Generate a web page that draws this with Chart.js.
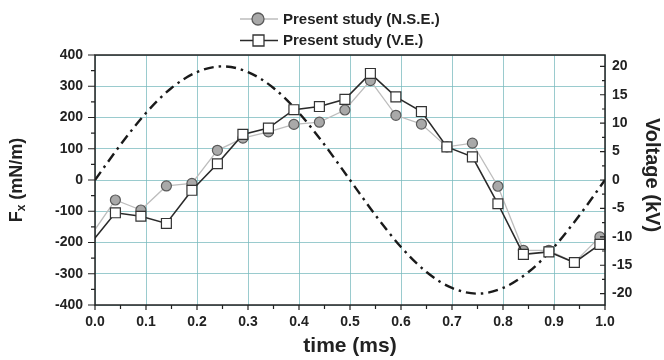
<!DOCTYPE html>
<html>
<head>
<meta charset="utf-8">
<script src="https://cdn.jsdelivr.net/npm/chart.js@4.4.1/dist/chart.umd.min.js"></script>
<style>
html,body{margin:0;padding:0;background:#fff;}
#wrap{position:relative;width:664px;height:360px;}
</style>
</head>
<body>
<div id="wrap"><canvas id="c" width="664" height="360"></canvas></div>
<script>
// ---- data ----
const times = [-0.01, 0.04, 0.09, 0.14, 0.19, 0.24, 0.29, 0.34, 0.39, 0.44, 0.49, 0.54, 0.59, 0.64, 0.69, 0.74, 0.79, 0.84, 0.89, 0.94, 0.99];
const nseValues = [-182, -64, -96, -19, -11, 95, 134, 154, 178, 185, 224, 318, 207, 179, 106, 118, -20, -225, -225, -264, -182];
const veValues  = [-206, -105, -116, -139, -33, 52, 146, 166, 225, 235, 258, 341, 266, 219, 106, 74, -76, -238, -230, -264, -206];
const voltTimes = [0, 0.05, 0.1, 0.15, 0.2, 0.25, 0.3, 0.35, 0.4, 0.45, 0.5, 0.55, 0.6, 0.65, 0.7, 0.75, 0.8, 0.85, 0.9, 0.95, 1.0];
const voltValues = [0, 6.2, 11.8, 16.2, 19.0, 20.0, 19.0, 16.2, 11.8, 6.2, 0, -6.2, -11.8, -16.2, -19.0, -20.0, -19.0, -16.2, -11.8, -6.2, 0];
const xTicks = [0, 0.1, 0.2, 0.3, 0.4, 0.5, 0.6, 0.7, 0.8, 0.9, 1.0];
const leftTicks = [-400, -300, -200, -100, 0, 100, 200, 300, 400];
const rightTicks = [-20, -15, -10, -5, 0, 5, 10, 15, 20];
const legendLabels = ['Present study (N.S.E.)', 'Present study (V.E.)'];
const xTitle = 'time (ms)';
const rightTitle = 'Voltage (kV)';

const FONT = '"Liberation Sans", Arial, sans-serif';
const GRID = 'rgba(120,185,190,0.75)';

const pts = (xs, ys) => xs.map((x, i) => ({x, y: ys[i]}));
const radii = (n, r) => Array.from({length: n}, (_, i) => i === 0 ? 0 : r);

const decor = {
  id: 'decor',
  afterDraw(chart) {
    const ctx = chart.ctx;
    const a = chart.chartArea;
    const sx = chart.scales.x, sl = chart.scales.yL, sr = chart.scales.yR;
    ctx.save();
    // frame
    ctx.strokeStyle = '#222';
    ctx.lineWidth = 1.5;
    ctx.strokeRect(a.left, a.top, a.right - a.left, a.bottom - a.top);
    ctx.lineWidth = 1.2;
    ctx.beginPath();
    // left ticks (outward)
    for (let v = -400; v <= 400; v += 50) {
      const y = sl.getPixelForValue(v);
      const len = (v % 100 === 0) ? 7 : 4;
      ctx.moveTo(a.left, y); ctx.lineTo(a.left - len, y);
    }
    // bottom ticks (outward)
    for (let i = 0; i <= 20; i++) {
      const x = sx.getPixelForValue(i * 0.05);
      const len = (i % 2 === 0) ? 5 : 4;
      ctx.moveTo(x, a.bottom); ctx.lineTo(x, a.bottom + len);
    }
    // right ticks (inward)
    for (let v = -20; v <= 20; v += 2.5) {
      const y = sr.getPixelForValue(v);
      const len = (Math.abs(v % 5) < 1e-9) ? 5 : 3;
      ctx.moveTo(a.right, y); ctx.lineTo(a.right - len, y);
    }
    ctx.stroke();

    // axis titles
    ctx.fillStyle = '#222';
    ctx.textAlign = 'center';
    ctx.textBaseline = 'middle';
    ctx.font = 'bold 21px ' + FONT;
    ctx.fillText(xTitle, (a.left + a.right) / 2, 346);

    // left title F_x (mN/m)
    ctx.save();
    ctx.translate(17, (a.top + a.bottom) / 2);
    ctx.rotate(-Math.PI / 2);
    ctx.textAlign = 'left';
    ctx.textBaseline = 'middle';
    const f1 = 'bold 18px ' + FONT, f2 = 'bold 12px ' + FONT;
    ctx.font = f1; const wF = ctx.measureText('F').width;
    ctx.font = f2; const wx = ctx.measureText('x').width;
    ctx.font = f1; const wR = ctx.measureText(' (mN/m)').width;
    let x0 = -(wF + wx + wR) / 2;
    ctx.font = f1; ctx.fillText('F', x0, 0);
    ctx.font = f2; ctx.fillText('x', x0 + wF, 5);
    ctx.font = f1; ctx.fillText(' (mN/m)', x0 + wF + wx, 0);
    ctx.restore();

    // right title
    ctx.save();
    ctx.translate(652, (a.top + a.bottom) / 2 - 5);
    ctx.rotate(Math.PI / 2);
    ctx.font = 'bold 20px ' + FONT;
    ctx.textAlign = 'center';
    ctx.textBaseline = 'middle';
    ctx.fillText(rightTitle, 0, 0);
    ctx.restore();

    // legend
    const ds = chart.data.datasets;
    const rows = [19, 40.5];
    for (let i = 0; i < 2; i++) {
      const d = ds[i];
      const y = rows[i];
      ctx.strokeStyle = d.borderColor;
      ctx.lineWidth = d.borderWidth;
      ctx.beginPath(); ctx.moveTo(240, y); ctx.lineTo(278, y); ctx.stroke();
      ctx.fillStyle = d.pointBackgroundColor;
      ctx.strokeStyle = d.pointBorderColor;
      ctx.lineWidth = 1.3;
      ctx.beginPath();
      if (i === 0) ctx.arc(258, y, 6, 0, Math.PI * 2);
      else ctx.rect(253, y - 5.5, 11, 11);
      ctx.fill(); ctx.stroke();
      ctx.fillStyle = '#222';
      ctx.font = 'bold 15px ' + FONT;
      ctx.textAlign = 'left';
      ctx.textBaseline = 'middle';
      ctx.fillText(legendLabels[i], 283, y + 0.5);
    }
    ctx.restore();
  }
};

new Chart(document.getElementById('c'), {
  type: 'line',
  data: {
    datasets: [
      {
        label: legendLabels[0],
        data: pts(times, nseValues),
        yAxisID: 'yL',
        borderColor: '#bdbdbd',
        borderWidth: 1.3,
        pointStyle: 'circle',
        pointRadius: radii(times.length, 5),
        pointBackgroundColor: '#a9a9a9',
        pointBorderColor: '#5a5a5a',
        pointBorderWidth: 1.2,
        tension: 0,
        clip: {left: 0, right: 8, top: 8, bottom: 8},
        order: 2
      },
      {
        label: legendLabels[1],
        data: pts(times, veValues),
        yAxisID: 'yL',
        borderColor: '#2a2a2a',
        borderWidth: 1.6,
        pointStyle: 'rect',
        pointRadius: radii(times.length, 7),
        pointBackgroundColor: '#ffffff',
        pointBorderColor: '#333333',
        pointBorderWidth: 1.2,
        tension: 0,
        clip: {left: 0, right: 8, top: 8, bottom: 8},
        order: 1
      },
      {
        label: 'Voltage',
        data: pts(voltTimes, voltValues),
        yAxisID: 'yR',
        borderColor: '#1a1a1a',
        borderWidth: 2.4,
        borderDash: [10, 5, 2.5, 5],
        pointRadius: 0,
        cubicInterpolationMode: 'monotone',
        clip: 0,
        order: 3
      }
    ]
  },
  options: {
    responsive: false,
    animation: false,
    devicePixelRatio: 1,
    layout: {padding: {top: 55, left: 0, right: 0, bottom: 0}},
    plugins: {legend: {display: false}, tooltip: {enabled: false}},
    scales: {
      x: {
        type: 'linear', min: 0, max: 1,
        afterBuildTicks: s => { s.ticks = xTicks.map(v => ({value: v})); },
        afterFit: s => { s.height = 55; },
        grid: {color: GRID, lineWidth: 1, drawTicks: false},
        border: {display: false},
        ticks: {
          padding: 9, color: '#222',
          font: {family: FONT, size: 14, weight: 'bold'},
          callback: v => Number(v).toFixed(1),
          maxRotation: 0, autoSkip: false
        }
      },
      yL: {
        type: 'linear', position: 'left', min: -400, max: 400,
        afterBuildTicks: s => { s.ticks = leftTicks.map(v => ({value: v})); },
        afterFit: s => { s.width = 95; },
        grid: {color: GRID, lineWidth: 1, drawTicks: false},
        border: {display: false},
        ticks: {
          padding: 12, color: '#222',
          font: {family: FONT, size: 14, weight: 'bold'},
          callback: v => String(v)
        }
      },
      yR: {
        type: 'linear', position: 'right', min: -22, max: 22,
        afterBuildTicks: s => { s.ticks = rightTicks.map(v => ({value: v})); },
        afterFit: s => { s.width = 59; },
        grid: {drawOnChartArea: false, drawTicks: false},
        border: {display: false},
        ticks: {
          padding: 7, color: '#222',
          font: {family: FONT, size: 14, weight: 'bold'},
          callback: v => String(v)
        }
      }
    }
  },
  plugins: [decor]
});
</script>
</body>
</html>
